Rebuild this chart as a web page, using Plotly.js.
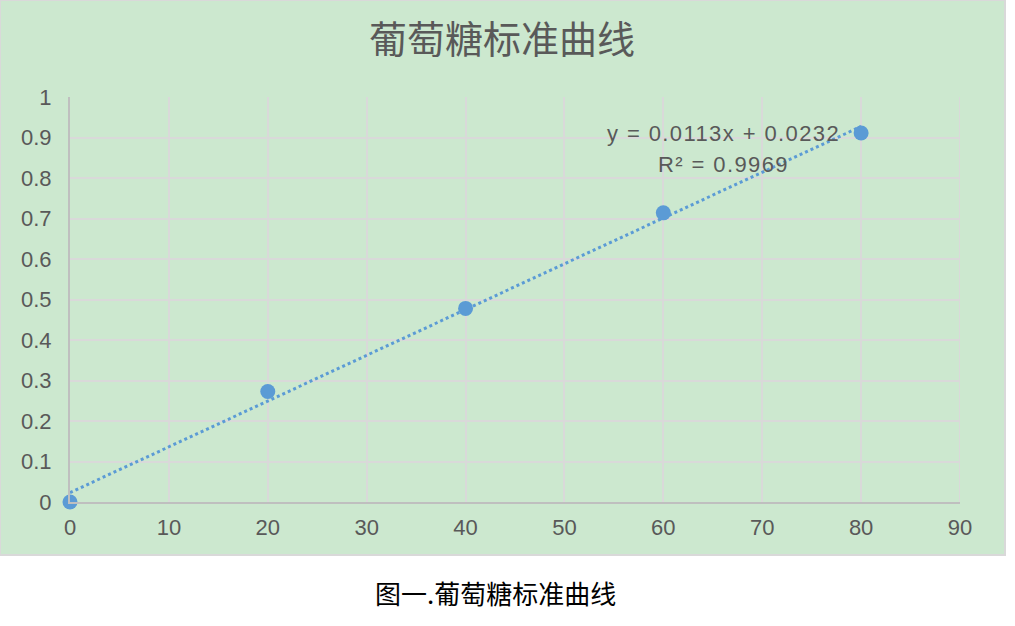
<!DOCTYPE html>
<html>
<head>
<meta charset="utf-8">
<script src="https://cdn.plot.ly/plotly-3.0.1.min.js"></script>
<style>
html,body{margin:0;padding:0;background:#fff;}
#chart{width:1015px;height:626px;}
</style>
</head>
<body>
<div id="chart"></div>
<script>
// Data
const concentration = [0, 20, 40, 60, 80];
const absorbance = [0, 0.273, 0.478, 0.714, 0.911];
// Linear trendline (from the chart's equation y = 0.0113x + 0.0232)
const trendX = [0, 80];
const trendY = [0.0232, 0.9272];
const chartTitle = "葡萄糖标准曲线";
const equationText = "y = 0.0113x + 0.0232";
const r2Text = "R² = 0.9969";
const captionText = "图一.葡萄糖标准曲线";

const blue = "#5B9BD5";
const gray = "#595959";
const sans = "'Liberation Sans', Arial, sans-serif";

const traces = [
  {x: trendX, y: trendY, mode: "lines", type: "scatter",
   line: {color: blue, width: 3, dash: "dot"}, hoverinfo: "skip", showlegend: false},
  {x: concentration, y: absorbance, mode: "markers", type: "scatter", cliponaxis: false,
   marker: {color: blue, size: 15}, showlegend: false}
];

const L = 70, R = 55, T = 97, B = 124;
const pw = 1015 - L - R, ph = 626 - T - B;

const layout = {
  width: 1015, height: 626,
  margin: {l: L, r: R, t: T, b: B, pad: 0},
  paper_bgcolor: "#ffffff",
  plot_bgcolor: "rgba(0,0,0,0)",
  font: {family: sans, color: gray},
  title: {text: chartTitle, font: {family: "'Noto Sans CJK SC', sans-serif", size: 38, color: gray},
          x: 502/1015, xanchor: "center", y: 1 - 40/626, yanchor: "middle"},
  xaxis: {range: [0, 90], dtick: 10, tick0: 0, showgrid: true, gridcolor: "#D9D9D9", gridwidth: 2,
          zeroline: false, showline: true, linecolor: "#BFBFBF", linewidth: 2,
          ticks: "", ticklabelstandoff: 5,
          tickfont: {family: sans, size: 22, color: gray}, fixedrange: true},
  yaxis: {range: [0, 1], dtick: 0.1, tick0: 0, showgrid: true, gridcolor: "#D9D9D9", gridwidth: 2,
          zeroline: false, showline: true, linecolor: "#BFBFBF", linewidth: 2,
          ticks: "", ticklabelstandoff: 12,
          tickfont: {family: sans, size: 22, color: gray}, fixedrange: true},
  shapes: [
    {type: "rect", xref: "paper", yref: "paper", layer: "below",
     x0: -L/pw, x1: (1005 - L)/pw, y0: (626 - B - 555)/ph, y1: (626 - B)/ph,
     fillcolor: "#CCE8CF", line: {color: "#D9D9D9", width: 2}},
    {type: "line", xref: "x", yref: "paper", layer: "below", x0: 90, x1: 90, y0: 0, y1: 1,
     line: {color: "#D9D9D9", width: 2}}
  ],
  annotations: [
    {text: '<span style="letter-spacing:1.4px">' + equationText + '</span>', xref: "paper", yref: "paper",
     x: (723 - L)/pw, y: (626 - B - 133)/ph,
     xanchor: "center", yanchor: "middle", showarrow: false, font: {family: sans, size: 22, color: gray}},
    {text: '<span style="letter-spacing:1.4px">' + r2Text + '</span>', xref: "paper", yref: "paper",
     x: (723 - L)/pw, y: (626 - B - 165)/ph,
     xanchor: "center", yanchor: "middle", showarrow: false, font: {family: sans, size: 22, color: gray}},
    {text: captionText, xref: "paper", yref: "paper", x: (495 - L)/pw, y: (626 - B - 592)/ph,
     xanchor: "center", yanchor: "middle", showarrow: false,
     font: {family: "'Noto Sans CJK SC', sans-serif", size: 26, color: "#000000"}}
  ]
};

Plotly.newPlot("chart", traces, layout, {displayModeBar: false, staticPlot: true});
</script>
</body>
</html>
